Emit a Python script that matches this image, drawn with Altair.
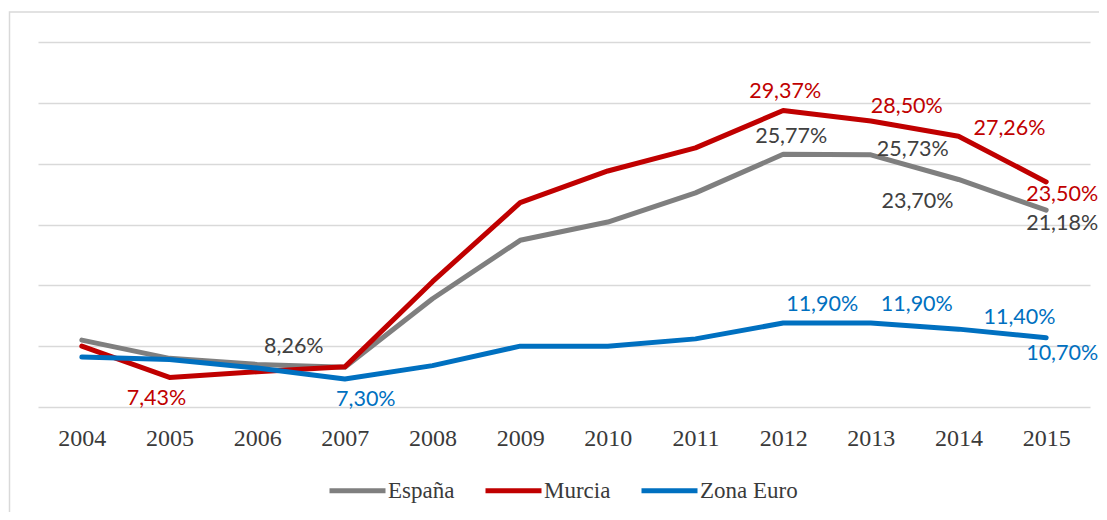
import altair as alt
import pandas as pd

# ---- data ----
years = [str(y) for y in range(2004, 2016)]
espana = [10.5, 9.0, 8.5, 8.26, 13.9, 18.7, 20.2, 22.6, 25.77, 25.73, 23.70, 21.18]
murcia = [10.0, 7.43, 7.9, 8.3, 15.3, 21.8, 24.4, 26.3, 29.37, 28.50, 27.26, 23.50]
zona_euro = [9.1, 8.9, 8.2, 7.30, 8.4, 10.0, 10.0, 10.6, 11.90, 11.90, 11.40, 10.70]
series_names = ["España", "Murcia", "Zona Euro"]

# ---- styling ----
line_colors = ["#7F7F7F", "#C00000", "#0070C0"]
label_colors = {"España": "#404040", "Murcia": "#C00000", "Zona Euro": "#0070C0"}
# which points carry a data label, with the label's pixel offset
label_offsets = {
    ("España", "2007"): (-51, -20),
    ("España", "2012"): (8, -17),
    ("España", "2013"): (42, -5),
    ("España", "2014"): (-41, 23),
    ("España", "2015"): (16, 14),
    ("Murcia", "2005"): (-13, 22),
    ("Murcia", "2012"): (2, -18),
    ("Murcia", "2013"): (36, -14),
    ("Murcia", "2014"): (51, -7),
    ("Murcia", "2015"): (16, 13),
    ("Zona Euro", "2007"): (21, 21),
    ("Zona Euro", "2012"): (39, -18),
    ("Zona Euro", "2013"): (46, -18),
    ("Zona Euro", "2014"): (61, -11),
    ("Zona Euro", "2015"): (16, 16),
}

rows = []
for name, vals in zip(series_names, [espana, murcia, zona_euro]):
    for yr, v in zip(years, vals):
        rows.append({"year": yr, "serie": name, "value": v,
                     "label": f"{v:.2f}".replace(".", ",") + "%"})
df = pd.DataFrame(rows)

x = alt.X("year:O", scale=alt.Scale(type="point", padding=0.5),
          axis=alt.Axis(title=None, labelAngle=0, domain=False, ticks=False,
                        labelFont="Liberation Serif", labelFontSize=24,
                        labelColor="#3a3a3a", labelPadding=19, grid=False))
y = alt.Y("value:Q", scale=alt.Scale(domain=[5, 35], nice=False, zero=False),
          axis=alt.Axis(title=None, values=[5, 10, 15, 20, 25, 30, 35], labels=False,
                        ticks=False, domain=False, grid=True,
                        gridColor="#d9d9d9", gridWidth=1.5))

frame = alt.Chart(pd.DataFrame({"a": [0]})).mark_rect(
    fillOpacity=0, stroke="#d9d9d9", strokeWidth=1.5
).encode(x=alt.value(-28.5), x2=alt.value(1300), y=alt.value(-30), y2=alt.value(800))

lines = alt.Chart(df).mark_line(strokeWidth=5, strokeCap="round", strokeJoin="round").encode(
    x=x, y=y,
    color=alt.Color("serie:N", scale=alt.Scale(domain=series_names, range=line_colors),
                    sort=series_names,
                    legend=alt.Legend(title=None, orient="none", legendX=289, legendY=418,
                                      direction="horizontal", symbolType="stroke",
                                      symbolSize=3136, symbolStrokeWidth=5,
                                      labelFont="Liberation Serif", labelFontSize=23,
                                      labelColor="#3a3a3a", labelOffset=0,
                                      columnPadding=20)),
)

texts = []
for (name, yr), (dx, dy) in label_offsets.items():
    t = alt.Chart(df).transform_filter(
        (alt.datum.serie == name) & (alt.datum.year == yr)
    ).mark_text(dx=dx, dy=dy, font="Lato", fontSize=21.5, color=label_colors[name],
                align="center", baseline="middle").encode(x=x, y=y, text="label:N")
    texts.append(t)

chart = alt.layer(frame, lines, *texts).properties(
    width=1052, height=365,
    padding={"left": 30, "top": 34, "right": 9, "bottom": 105},
    autosize=alt.AutoSizeParams(type="none"),
).configure_view(stroke=None)

chart.save("out.html", embed_options={"renderer": "svg", "actions": False})
